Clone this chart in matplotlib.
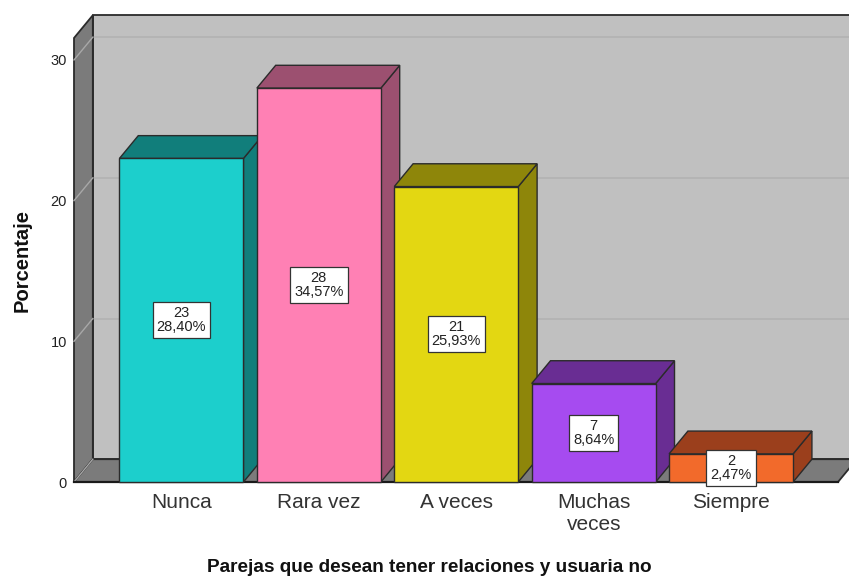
import matplotlib
matplotlib.use("Agg")
import matplotlib.pyplot as plt
from matplotlib.patches import Polygon

plt.rcParams["font.family"] = ["Liberation Sans", "DejaVu Sans"]

categories = ["Nunca", "Rara vez", "A veces", "Muchas\nveces", "Siempre"]
counts = [23, 28, 21, 7, 2]
percents = [28.40, 34.57, 25.93, 8.64, 2.47]
yticks = [0, 10, 20, 30]

front_colors = ["#1ccfcc", "#ff80b4", "#e3d712", "#a64bf0", "#f26a2b"]
dark_colors = ["#117e7b", "#9c5070", "#8e860a", "#692d93", "#9b3f1c"]

W, H = 849, 578
fig = plt.figure(figsize=(W / 100, H / 100), dpi=100)
fig.patch.set_facecolor("white")

# front plane of the 3D box
X_MIN, X_MAX = -0.782, 4.778
Y_MAX = 31.56
ax = fig.add_axes([74 / W, (H - 482) / H, 764 / W, 444 / H])
ax.set_xlim(X_MIN, X_MAX)
ax.set_ylim(0, Y_MAX)
for s in ax.spines.values():
    s.set_visible(False)
ax.set_facecolor("none")

# depth offset (in data units)
DX, DY = 0.137, 1.62
BAR_W = 0.9025
edge = "#2b2b2b"

def poly(pts, fc, ec=edge, lw=1.0, z=1):
    p = Polygon(pts, closed=True, facecolor=fc, edgecolor=ec, linewidth=lw,
                clip_on=False, zorder=z, joinstyle="miter")
    ax.add_patch(p)
    return p

# back wall
poly([(X_MIN + DX, DY), (X_MAX + DX, DY), (X_MAX + DX, Y_MAX + DY),
      (X_MIN + DX, Y_MAX + DY)], "#c0c0c0", lw=1.3, z=1)
# left wall
poly([(X_MIN, 0), (X_MIN + DX, DY), (X_MIN + DX, Y_MAX + DY), (X_MIN, Y_MAX)],
     "#7b7b7b", lw=1.3, z=2)
# floor
poly([(X_MIN, 0), (X_MAX, 0), (X_MAX + DX, DY), (X_MIN + DX, DY)],
     "#7b7b7b", lw=1.3, z=2)

# grid lines on back wall and left wall
for t in yticks[1:]:
    ax.plot([X_MIN + DX, X_MAX + DX], [t + DY, t + DY], color="#b2b2b2",
            lw=1.2, zorder=1.5, clip_on=False)
    ax.plot([X_MIN, X_MIN + DX], [t, t + DY], color="#a8a8a8",
            lw=1.0, zorder=2.5, clip_on=False)
ax.plot([X_MIN, X_MIN + DX], [0, DY], color="#a8a8a8", lw=1.0, zorder=2.5,
        clip_on=False)
ax.plot([X_MIN, X_MAX], [0, 0], color="#1a1a1a", lw=1.6, zorder=2.6,
        clip_on=False)

# 3D bars
for i, (h, fc, dc) in enumerate(zip(counts, front_colors, dark_colors)):
    x0, x1 = i - BAR_W / 2, i + BAR_W / 2
    z = 3 + i
    poly([(x1, 0), (x1 + DX, DY), (x1 + DX, h + DY), (x1, h)], dc, lw=1.0, z=z)
    poly([(x0, h), (x1, h), (x1 + DX, h + DY), (x0 + DX, h + DY)], dc, lw=1.0, z=z)
    poly([(x0, 0), (x1, 0), (x1, h), (x0, h)], fc, lw=1.0, z=z)

for i, (h, p) in enumerate(zip(counts, percents)):
    ax.text(i, h / 2, f"{h}\n{p:.2f}%".replace(".", ","), ha="center",
            va="center", fontsize=10.5, color="#222222", linespacing=1.0,
            zorder=20,
            bbox=dict(boxstyle="square,pad=0.28", facecolor="white",
                      edgecolor="#333333", linewidth=0.9))

ax.set_yticks(yticks)
ax.set_yticklabels([str(t) for t in yticks], fontsize=10.5, color="#222222")
ax.set_xticks(range(len(categories)))
ax.set_xticklabels(categories, fontsize=15, color="#333333", linespacing=1.2)
ax.tick_params(axis="y", length=0, pad=5)
ax.tick_params(axis="x", length=0, pad=8)

ax.set_ylabel("Porcentaje", fontsize=14.5, fontweight="bold", color="#111111")
ax.yaxis.set_label_coords(-0.056, 0.5)

fig.text(429 / W, 1 - 572 / H, "Parejas que desean tener relaciones y usuaria no",
         ha="center", va="baseline", fontsize=13.7, fontweight="bold",
         color="#111111")

fig.savefig("out.png", dpi=100)
